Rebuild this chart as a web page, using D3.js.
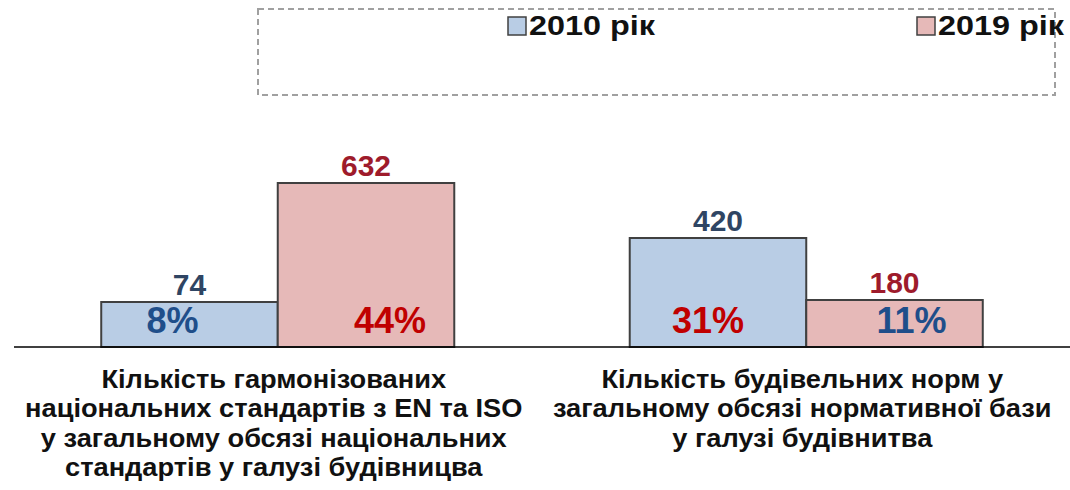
<!DOCTYPE html>
<html>
<head>
<meta charset="utf-8">
<script src="https://cdn.jsdelivr.net/npm/d3@7"></script>
<style>
  body { margin: 0; background: #fff; }
  text { font-family: "Liberation Sans", Arial, sans-serif; font-weight: bold; }
</style>
</head>
<body>
<svg></svg>
<script>
const categories = [
  ["Кількість гармонізованих", "національних стандартів з EN та ISO", "у загальному обсязі національних", "стандартів у галузі будівницва"],
  ["Кількість будівельних норм у", "загальному обсязі нормативної бази", "у галузі будівнитва"]]
const series = ["2010 рік", "2019 рік"]

// counts shown above the bars
const counts = [[74, 632], [420, 180]]
// shares shown inside the bars
const shares = ["8%", "44%", "31%", "11%"]
// bar heights as drawn in the picture (not proportional to the counts)
const barLevels = [[45, 164], [109, 47]]

const width = 1070
const height = 490
const baseY = 347

const svg = d3.select("svg")
      .attr("width", width)
      .attr("height", height)

const x = d3.scaleBand()
      .domain(d3.range(categories.length))
      .range([13.5, 1070.5])
      .paddingInner(0.332)
      .paddingOuter(0.166)

const xs = d3.scaleBand()
      .domain(series)
      .range([0, x.bandwidth()])

const y = d3.scaleLinear()
      .domain([0, 200])
      .range([baseY, baseY - 200])

const fills = ["#b9cde5", "#e6b9b8"]
const countColors = ["#2f4563", "#9e1b2b"]
const shareColors = ["#1f4e8a", "#c00000", "#c00000", "#1f4e8a"]
// horizontal nudge of the share labels, as placed in the picture
const shareShift = [-17, 24, -10, 17]

const bars = []
categories.forEach((c, i) => series.forEach((s, j) => bars.push({
      i, j, s, level: barLevels[i][j], count: counts[i][j], share: shares[i * 2 + j]
})))

const g = svg.append("g")
g.selectAll("rect")
      .data(bars)
      .join("rect")
      .attr("x", d => x(d.i) + xs(d.s))
      .attr("y", d => y(d.level))
      .attr("width", xs.bandwidth())
      .attr("height", d => y(0) - y(d.level))
      .attr("fill", d => fills[d.j])
      .attr("stroke", "#404040")
      .attr("stroke-width", 2)

g.selectAll("text.count")
      .data(bars)
      .join("text")
      .attr("class", "count")
      .attr("x", d => x(d.i) + xs(d.s) + xs.bandwidth() / 2)
      .attr("y", d => y(d.level) - 7)
      .attr("text-anchor", "middle")
      .attr("font-size", 30)
      .attr("fill", d => countColors[d.j])
      .text(d => d.count)

g.selectAll("text.share")
      .data(bars)
      .join("text")
      .attr("class", "share")
      .attr("x", (d, k) => x(d.i) + xs(d.s) + xs.bandwidth() / 2 + shareShift[k])
      .attr("y", 333)
      .attr("text-anchor", "middle")
      .attr("font-size", 36)
      .attr("fill", (d, k) => shareColors[k])
      .text(d => d.share)

// baseline
svg.append("line")
      .attr("x1", 14).attr("x2", width)
      .attr("y1", baseY).attr("y2", baseY)
      .attr("stroke", "#000")
      .attr("stroke-width", 1.5)

// category labels (a bit wider than the font, as in the picture)
svg.append("g")
      .selectAll("text")
      .data(categories)
      .join("text")
      .attr("text-anchor", "middle")
      .attr("font-size", 25)
      .attr("fill", "#111")
      .attr("transform", (d, i) => `translate(${x(i) + x.bandwidth() / 2 - 4},388) scale(1.09,1)`)
      .selectAll("tspan")
      .data(d => d)
      .join("tspan")
      .attr("x", 0)
      .attr("y", (d, k) => k * 29.5)
      .text(d => d)

// legend
svg.append("rect")
      .attr("x", 258).attr("y", 9)
      .attr("width", 797).attr("height", 86)
      .attr("fill", "none")
      .attr("stroke", "#a0a0a0")
      .attr("stroke-width", 2)
      .attr("stroke-dasharray", "6,4")

const legendX = [508, 917]
const leg = svg.append("g")
      .selectAll("g")
      .data(series)
      .join("g")
      .attr("transform", (d, i) => `translate(${legendX[i]},17)`)

leg.append("rect")
      .attr("width", 18).attr("height", 18)
      .attr("fill", (d, i) => fills[i])
      .attr("stroke", "#404040")
      .attr("stroke-width", 1.5)

leg.append("text")
      .attr("x", 21)
      .attr("y", 18)
      .attr("font-size", 27)
      .attr("textLength", 126)
      .attr("lengthAdjust", "spacingAndGlyphs")
      .attr("fill", "#111")
      .text(d => d)
</script>
</body>
</html>
